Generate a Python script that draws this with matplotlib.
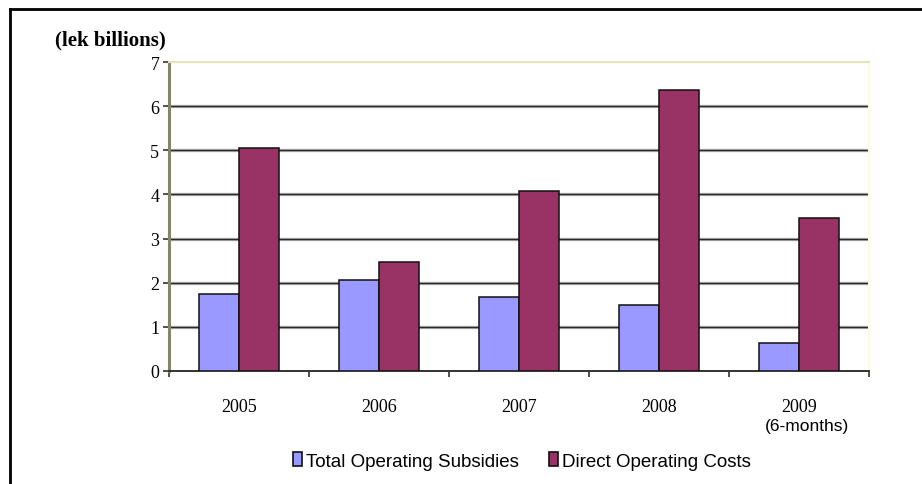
import numpy as np
import matplotlib
matplotlib.use("Agg")
import matplotlib.pyplot as plt
from matplotlib.lines import Line2D
from matplotlib.patches import Patch

# data (lek billions)
years = ["2005", "2006", "2007", "2008", "2009"]
subsidies = [1.74, 2.07, 1.67, 1.48, 0.64]
op_costs = [5.06, 2.46, 4.09, 6.38, 3.46]
yticks = [0, 1, 2, 3, 4, 5, 6, 7]

BLUE = "#9999ff"
PLUM = "#993366"
SERIF = "Liberation Serif"
SANS = "Liberation Sans"

W, H = 922, 485
fig = plt.figure(figsize=(W / 100, H / 100), dpi=100)
fig.patch.set_facecolor("white")

# axes placed in pixel terms
ax = fig.add_axes([169 / W, 1 - 371.7 / H, 700 / W, 308.4 / H])

x = np.arange(len(years))
bw = 40 / 140
ax.bar(x - bw / 2, subsidies, bw, color=BLUE, edgecolor="#111111", linewidth=1.1, zorder=3)
ax.bar(x + bw / 2, op_costs, bw, color=PLUM, edgecolor="#111111", linewidth=1.1, zorder=3)

ax.set_xlim(-0.5, len(years) - 0.5)
ax.set_ylim(0, 7)

# gridlines (not at top)
for v in yticks[1:-1]:
    ax.axhline(v, color="#b4b4b4", lw=2.4, zorder=1)
    ax.axhline(v, color="#2a2a2a", lw=1.0, zorder=2)

ax.set_yticks(yticks)
ax.set_yticklabels([str(v) for v in yticks], fontfamily=SERIF, fontsize=13)
ax.tick_params(axis="y", direction="out", length=4, width=1.2, color="#333333", pad=3)

ax.set_xticks(x)
ax.set_xticklabels(years, fontfamily=SERIF, fontsize=13)
ax.tick_params(axis="x", which="major", length=0, pad=20)
ax.set_xticks(np.arange(len(years) + 1) - 0.5, minor=True)
ax.tick_params(axis="x", which="minor", direction="out", length=4, width=1.2, color="#333333")

fig.text(807 / W, 1 - 427 / H, "(6-months)", ha="center", va="center",
         fontfamily=SANS, fontsize=12.5)

ax.spines["left"].set_color("#85856a")
ax.spines["left"].set_linewidth(2.2)
ax.spines["bottom"].set_color("#333333")
ax.spines["bottom"].set_linewidth(1.4)
ax.spines["top"].set_color("#e4e4b4")
ax.spines["top"].set_linewidth(1.5)
ax.spines["right"].set_color("#fffbe0")
ax.spines["right"].set_linewidth(1.5)

fig.text(55 / W, 1 - 40 / H, "(lek billions)", ha="left", va="center",
         fontfamily=SERIF, fontweight="bold", fontsize=15)

handles = [Patch(facecolor=BLUE, edgecolor="#111111", linewidth=1.2),
           Patch(facecolor=PLUM, edgecolor="#111111", linewidth=1.2)]
fig.legend(handles, ["Total Operating Subsidies", "Direct Operating Costs"],
           loc="center", bbox_to_anchor=(522 / W, 1 - 462 / H), ncol=2,
           frameon=False, prop={"family": SANS, "size": 13.5},
           handlelength=0.5, handleheight=0.7, handletextpad=0.2, columnspacing=1.6)

# outer frame (left and top edges visible)
fig.add_artist(Line2D([10 / W, 10 / W], [0, 1 - 10 / H], color="black", lw=2))
fig.add_artist(Line2D([10 / W, 1], [1 - 10 / H, 1 - 10 / H], color="black", lw=2))

fig.savefig("out.png", dpi=100)
